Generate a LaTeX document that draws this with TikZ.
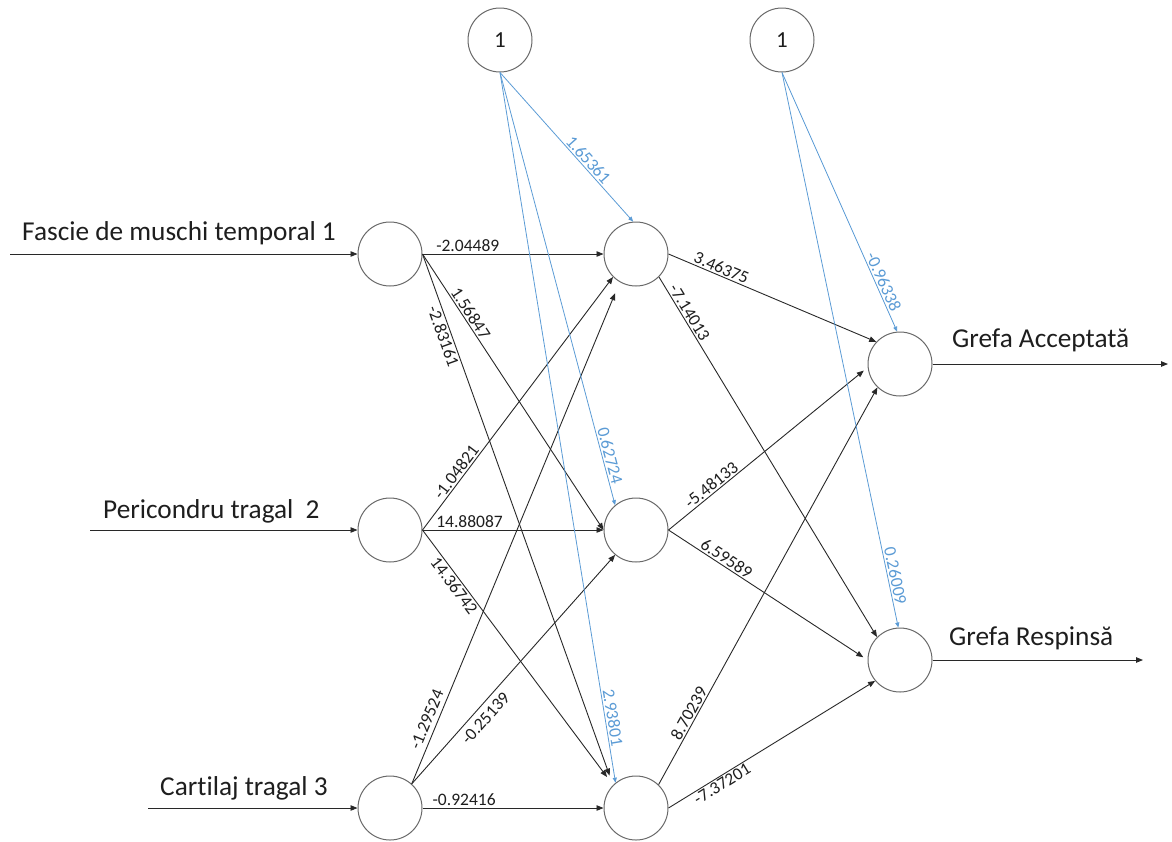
\documentclass[tikz,border=0pt]{standalone}
\usepackage{fontspec}
\setmainfont{Carlito}[Ligatures=CommonOff]
\usetikzlibrary{arrows.meta}
\definecolor{nodecol}{RGB}{105,105,105}
\definecolor{linecol}{RGB}{40,40,40}
\definecolor{textcol}{RGB}{30,30,30}
\definecolor{bluecol}{RGB}{91,155,213}
\begin{document}
\begin{tikzpicture}[x=1pt,y=-1pt,
  neuron/.style={circle,draw=nodecol,line width=1pt,minimum size=64pt,inner sep=0pt,text=textcol},
  conn/.style={draw=linecol,line width=0.9pt,-{Triangle[length=7pt,width=5.5pt]}},
  bconn/.style={draw=bluecol,line width=0.8pt,-{Triangle[length=5pt,width=4pt]}},
  w/.style={font=\fontsize{17.5}{17.5}\selectfont,text=textcol,sloped,inner sep=1.5pt},
  bw/.style={font=\fontsize{17.5}{17.5}\selectfont,text=bluecol,sloped,inner sep=1.5pt},
  lbl/.style={font=\fontsize{27.3}{27.3}\selectfont,text=textcol,inner sep=0pt,anchor=base west}]
\useasboundingbox (0,0) rectangle (1172,841);
% nodes
\node[neuron] (I1) at (390,254) {};
\node[neuron] (I2) at (390,530) {};
\node[neuron] (I3) at (390,808) {};
\node[neuron] (H1) at (636,254) {};
\node[neuron] (H2) at (636,530) {};
\node[neuron] (H3) at (636,808) {};
\node[neuron] (O1) at (900,364) {};
\node[neuron] (O2) at (900,660) {};
\node[neuron,font=\fontsize{23}{23}\selectfont] (B1) at (500,40) {1};
\node[neuron,font=\fontsize{23}{23}\selectfont] (B2) at (782,40) {1};
% input / output arrows
\coordinate (in1) at (10,254);
\coordinate (in2) at (90,530);
\coordinate (in3) at (148,808);
\coordinate (out1) at (1168,364);
\coordinate (out2) at (1143,660);
\draw[conn] (in1) -- (I1.west);
\draw[conn] (in2) -- (I2.west);
\draw[conn] (in3) -- (I3.west);
\draw[conn] (O1.east) -- (out1);
\draw[conn] (O2.east) -- (out2);
\node[lbl] (t1) at (22,240) {Fascie de muschi temporal 1};
\node[lbl] (t2) at (103,518) {Pericondru tragal\ \ 2};
\node[lbl] (t3) at (160,795) {Cartilaj tragal 3};
\node[lbl] (t4) at (952,347) {Grefa Acceptată};
\node[lbl] (t5) at (949,645) {Grefa Respinsă};
% input -> hidden
\draw[conn] (I1.east) -- node[w,pos=.25,above]{-2.04489} (H1.west);
\draw[conn] (I1.east) -- node[w,pos=.23,above]{1.56847} (H2.west);
\draw[conn,shorten >=10pt] (I1.east) -- node[w,pos=.15,below]{-2.83161} (H3.135);
\draw[conn] (I2.east) -- node[w,pos=.21,above]{-1.04821} (H1.225);
\draw[conn] (I2.east) -- node[w,pos=.26,above]{14.88087} (H2.west);
\draw[conn,shorten >=10pt] (I2.east) -- node[w,pos=.2,below]{14.36742} (H3.135);
\draw[conn,shorten >=12pt] (I3.48) -- node[w,pos=.12,above=3pt]{-1.29524} (H1.240);
\draw[conn] (I3.48) -- node[w,pos=.32,below=4pt]{-0.25139} (H2.230);
\draw[conn] (I3.east) -- node[w,pos=.23,above]{-0.92416} (H3.west);
% hidden -> output
\draw[conn] (H1.east) -- node[w,pos=.24,above]{3.46375} (O1.137);
\draw[conn] (H1.-45) -- node[w,pos=.11,above]{-7.14013} (O2.135);
\draw[conn,shorten >=5pt] (H2.east) -- node[w,pos=.24,above]{-5.48133} (O1.186);
\draw[conn,shorten >=5pt] (H2.east) -- node[w,pos=.27,above]{6.59589} (O2.180);
\draw[conn] (H3.46) -- node[w,pos=.17,above]{8.70239} (O1.226);
\draw[conn] (H3.east) -- node[w,pos=.24,below]{-7.37201} (O2.220);
% bias
\draw[bconn] (B1.south) -- node[bw,pos=.62,above]{1.65361} (H1.95);
\draw[bconn] (B1.south) -- node[bw,pos=.89,above]{0.62724} (H2.130);
\draw[bconn] (B1.south) -- node[bw,pos=.91,above]{2.93801} (H3.129);
\draw[bconn] (B2.south) -- node[bw,pos=.82,above]{-0.96338} (O1.95);
\draw[bconn] (B2.south) -- node[bw,pos=.91,above]{0.26009} (O2.93);
\end{tikzpicture}
\end{document}
